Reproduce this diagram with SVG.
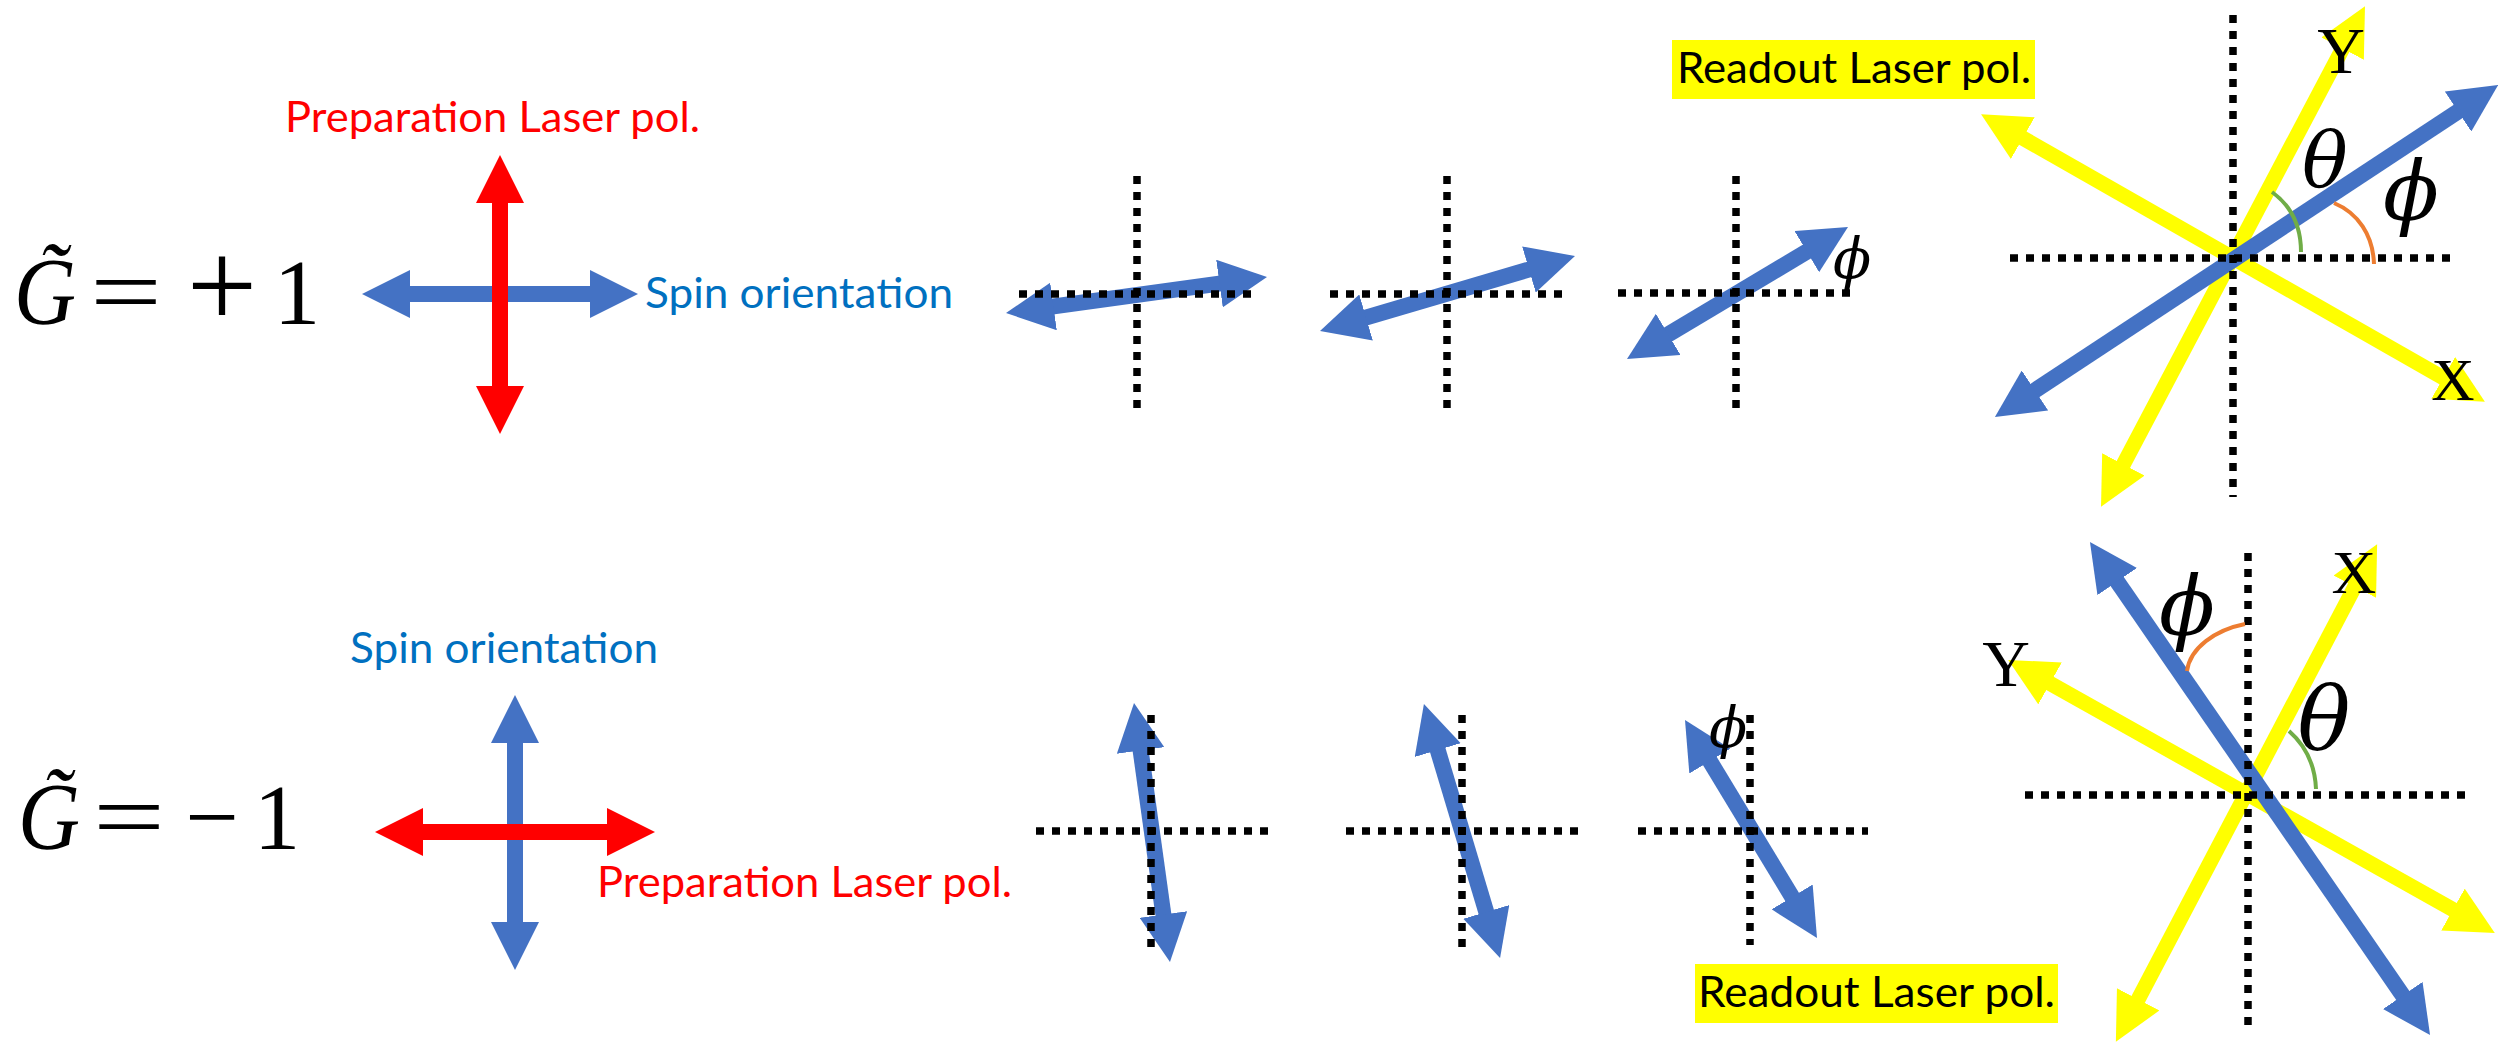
<svg xmlns="http://www.w3.org/2000/svg" width="2498" height="1051" viewBox="0 0 2498 1051">
<defs>
<marker id="hb" markerUnits="userSpaceOnUse" markerWidth="48" markerHeight="48" viewBox="0 0 48 48" refX="18" refY="24" orient="auto-start-reverse"><path d="M0,0 L48,24 L0,48 Z" fill="#4472C4"/></marker>
<marker id="hr" markerUnits="userSpaceOnUse" markerWidth="48" markerHeight="48" viewBox="0 0 48 48" refX="18" refY="24" orient="auto-start-reverse"><path d="M0,0 L48,24 L0,48 Z" fill="#FF0000"/></marker>
<marker id="hy" markerUnits="userSpaceOnUse" markerWidth="48" markerHeight="48" viewBox="0 0 48 48" refX="18" refY="24" orient="auto-start-reverse"><path d="M0,0 L48,24 L0,48 Z" fill="#FFFF00"/></marker>
</defs>
<style>
.b{stroke:#4472C4;stroke-width:16;marker-start:url(#hb);marker-end:url(#hb)}
.r{stroke:#FF0000;stroke-width:16;marker-start:url(#hr);marker-end:url(#hr)}
.y{stroke:#FFFF00;stroke-width:15;marker-start:url(#hy);marker-end:url(#hy)}
.d{stroke:#000;stroke-width:7.5;stroke-dasharray:8 8;fill:none}
.lbl{font-family:Lato,"Open Sans",sans-serif;font-size:42px}
.math{font-family:"Liberation Serif","DejaVu Serif",serif;fill:#000}
.gr{font-family:"DejaVu Serif","Liberation Serif",serif;font-style:italic;fill:#000;text-anchor:middle}
.ax{font-family:"Liberation Serif",serif;fill:#000;text-anchor:middle}
.arc{fill:none;stroke-width:4}
</style>
<rect width="2498" height="1051" fill="#fff"/>

<g id="eq-plus">
<text class="math" x="14" y="324" font-size="95" font-style="italic" textLength="62" lengthAdjust="spacingAndGlyphs">G̃</text>
<text class="math" x="90" y="324" font-size="95" textLength="72" lengthAdjust="spacingAndGlyphs">=</text>
<text class="math" x="222" y="327" font-size="125" text-anchor="middle">+</text>
<text class="math" x="297" y="324" font-size="93" text-anchor="middle">1</text>
</g>

<g id="eq-minus">
<text class="math" x="18" y="849" font-size="95" font-style="italic" textLength="62" lengthAdjust="spacingAndGlyphs">G̃</text>
<text class="math" x="93" y="849" font-size="95" textLength="72" lengthAdjust="spacingAndGlyphs">=</text>
<text class="math" x="212" y="849" font-size="95" text-anchor="middle">−</text>
<text class="math" x="277" y="849" font-size="93" text-anchor="middle">1</text>
</g>

<g id="prep-top">
<line class="b" x1="-108" y1="0" x2="108" y2="0" transform="translate(500 294)"/>
<line class="r" x1="-109.5" y1="0" x2="109.5" y2="0" transform="translate(500 294.5) rotate(90)"/>
<text class="lbl" x="285" y="132" fill="#FF0000" textLength="415" lengthAdjust="spacingAndGlyphs">Preparation Laser pol.</text>
<text class="lbl" x="645" y="308" fill="#0070C0" textLength="308" lengthAdjust="spacingAndGlyphs">Spin orientation</text>
</g>

<g id="prep-bottom">
<line class="b" x1="-107.5" y1="0" x2="107.5" y2="0" transform="translate(515 832.5) rotate(90)"/>
<line class="r" x1="-110" y1="0" x2="110" y2="0" transform="translate(515 832)"/>
<text class="lbl" x="350" y="663" fill="#0070C0" textLength="308" lengthAdjust="spacingAndGlyphs">Spin orientation</text>
<text class="lbl" x="597" y="897" fill="#FF0000" textLength="415" lengthAdjust="spacingAndGlyphs">Preparation Laser pol.</text>
</g>

<g id="cross-top-1">
<line class="b" x1="-101.75" y1="0" x2="101.75" y2="0" transform="translate(1136.5 295) rotate(-7.85)"/>
<line class="d" x1="1137" y1="176" x2="1137" y2="411"/>
<line class="d" x1="1019" y1="294" x2="1251" y2="294"/>
</g>
<g id="cross-top-2">
<line class="b" x1="-102.9" y1="0" x2="102.9" y2="0" transform="translate(1447.5 293.5) rotate(-16.4)"/>
<line class="d" x1="1447" y1="176" x2="1447" y2="411"/>
<line class="d" x1="1330" y1="294" x2="1563" y2="294"/>
</g>
<g id="cross-top-3">
<line class="b" x1="-98.7" y1="0" x2="98.7" y2="0" transform="translate(1737.5 293) rotate(-30.85)"/>
<line class="d" x1="1736" y1="176" x2="1736" y2="411"/>
<line class="d" x1="1618" y1="293" x2="1851" y2="293"/>
<text class="gr" x="1852" y="278" font-size="56">ϕ</text>
</g>

<g id="cross-bottom-1">
<line class="b" x1="-100.75" y1="0" x2="100.75" y2="0" transform="translate(1152 832.5) rotate(82.1)"/>
<line class="d" x1="1151" y1="715" x2="1151" y2="947"/>
<line class="d" x1="1036" y1="831" x2="1268" y2="831"/>
</g>
<g id="cross-bottom-2">
<line class="b" x1="-102.5" y1="0" x2="102.5" y2="0" transform="translate(1462 831) rotate(73.3)"/>
<line class="d" x1="1462" y1="715" x2="1462" y2="947"/>
<line class="d" x1="1346" y1="831" x2="1579" y2="831"/>
</g>
<g id="cross-bottom-3">
<line class="b" x1="-97.4" y1="0" x2="97.4" y2="0" transform="translate(1751 829) rotate(58.8)"/>
<line class="d" x1="1750" y1="715" x2="1750" y2="945"/>
<line class="d" x1="1638" y1="831" x2="1868" y2="831"/>
<text class="gr" x="1728" y="747" font-size="56">ϕ</text>
</g>

<g id="readout-top">
<rect x="1672" y="40" width="363" height="59" fill="#FFFF00"/>
<text class="lbl" x="1677" y="83" fill="#000" textLength="354" lengthAdjust="spacingAndGlyphs">Readout Laser pol.</text>
</g>
<g id="readout-bottom">
<rect x="1695" y="964" width="363" height="59" fill="#FFFF00"/>
<text class="lbl" x="1698" y="1007" fill="#000" textLength="357" lengthAdjust="spacingAndGlyphs">Readout Laser pol.</text>
</g>

<g id="frame-top">
<line class="y" x1="-260" y1="0" x2="260" y2="0" transform="translate(2233 258) rotate(29.7)"/>
<line class="y" x1="-253" y1="0" x2="253" y2="0" transform="translate(2233 256.5) rotate(-62.2)"/>
<line class="b" x1="-271.35" y1="0" x2="271.35" y2="0" transform="translate(2246.5 251) rotate(-33.4)"/>
<line class="d" x1="2233" y1="15" x2="2233" y2="497"/>
<line class="d" x1="2010" y1="258" x2="2452" y2="258"/>
<path class="arc" stroke="#70AD47" d="M2272,192 C2290,205 2301,225 2301,252"/>
<path class="arc" stroke="#ED7D31" d="M2334,203 C2358,213 2373,235 2374,264"/>
<text class="ax" x="2341" y="73" font-size="66">Y</text>
<text class="ax" x="2453" y="400" font-size="60">X</text>
<text class="gr" x="2325" y="186" font-size="76">θ</text>
<text class="gr" x="2411" y="220" font-size="82">ϕ</text>
</g>

<g id="frame-bottom">
<line class="y" x1="-251" y1="0" x2="251" y2="0" transform="translate(2246.5 793) rotate(-62.3)"/>
<line class="y" x1="-249" y1="0" x2="249" y2="0" transform="translate(2251.5 796.5) rotate(29.3)"/>
<line class="b" x1="-269.45" y1="0" x2="269.45" y2="0" transform="translate(2260 788.5) rotate(55.4)"/>
<line class="d" x1="2248" y1="553" x2="2248" y2="1033"/>
<line class="d" x1="2025" y1="795" x2="2468" y2="795"/>
<path class="arc" stroke="#70AD47" d="M2289,731 C2305,745 2315,765 2316,789"/>
<path class="arc" stroke="#ED7D31" d="M2245,624 C2215,630 2190,648 2187,671"/>
<text class="ax" x="2354" y="593" font-size="62">X</text>
<text class="ax" x="2006" y="686" font-size="66">Y</text>
<text class="gr" x="2324" y="749" font-size="88">θ</text>
<text class="gr" x="2187" y="635" font-size="82">ϕ</text>
</g>
</svg>
